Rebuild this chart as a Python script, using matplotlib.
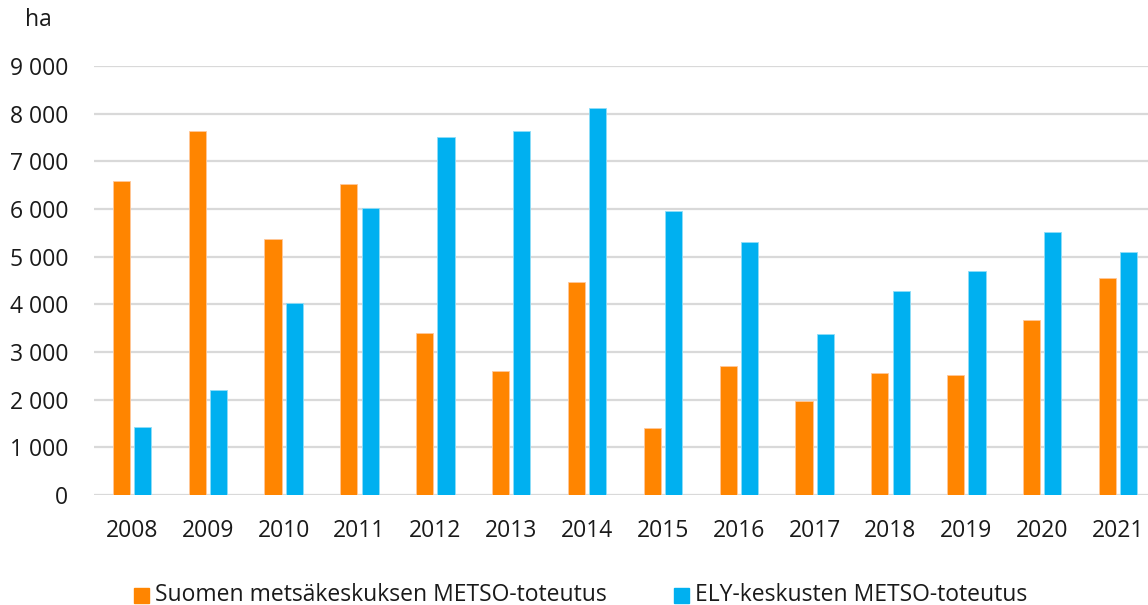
import matplotlib.pyplot as plt
import numpy as np
from matplotlib.ticker import FuncFormatter

years = ['2008', '2009', '2010', '2011', '2012', '2013', '2014',
         '2015', '2016', '2017', '2018', '2019', '2020', '2021']
metsakeskus = [6590, 7640, 5370, 6520, 3400, 2600, 4470,
               1410, 2710, 1970, 2560, 2520, 3670, 4550]
ely = [1430, 2200, 4030, 6020, 7510, 7640, 8120,
       5960, 5310, 3380, 4280, 4700, 5520, 5100]

labels = ['Suomen metsäkeskuksen METSO-toteutus', 'ELY-keskusten METSO-toteutus']
ORANGE = '#FF8500'
BLUE = '#00B0F0'
FS = 16.5

plt.rcParams['font.family'] = ['Open Sans', 'DejaVu Sans']

fig = plt.figure(figsize=(11.48, 6.05), dpi=100)
ax = fig.add_axes([94 / 1148, 110 / 605, 1062 / 1148, 429 / 605])

x = np.arange(len(years))
w = 0.225
ax.bar(x - 0.14, metsakeskus, w, color=ORANGE, edgecolor='#FFC89A', linewidth=0.6, zorder=3)
ax.bar(x + 0.14, ely, w, color=BLUE, edgecolor='#8FDDF7', linewidth=0.6, zorder=3)

ax.set_xlim(-0.5, len(years) - 0.5)
ax.set_ylim(0, 9000)
ax.set_yticks(np.arange(0, 9001, 1000))
ax.yaxis.set_major_formatter(FuncFormatter(lambda v, p: f'{int(v):,}'.replace(',', ' ')))
ax.set_xticks(x)
ax.set_xticklabels(years)
ax.tick_params(axis='both', length=0, labelsize=FS, colors='#1a1a1a')
ax.tick_params(axis='y', pad=18.5)
ax.tick_params(axis='x', pad=17)
ax.grid(axis='y', color='#D9D9D9', linewidth=1.6, zorder=0)
for s in ax.spines.values():
    s.set_visible(False)

fig.text(38 / 1148, 1 - 20 / 605, 'ha', fontsize=FS, color='#1a1a1a', ha='center', va='center')

# legend drawn by hand to match spacing
base_y = 1 - 601 / 605
fig.patches.append(plt.Rectangle((134 / 1148, 1 - 603 / 605), 15 / 1148, 15 / 605,
                                 transform=fig.transFigure, color=ORANGE))
fig.text(155 / 1148, base_y, labels[0], fontsize=FS, color='#1a1a1a', va='baseline')
fig.patches.append(plt.Rectangle((674 / 1148, 1 - 603 / 605), 15 / 1148, 15 / 605,
                                 transform=fig.transFigure, color=BLUE))
fig.text(695 / 1148, base_y, labels[1], fontsize=FS, color='#1a1a1a', va='baseline')

fig.savefig('out.png', dpi=100)
